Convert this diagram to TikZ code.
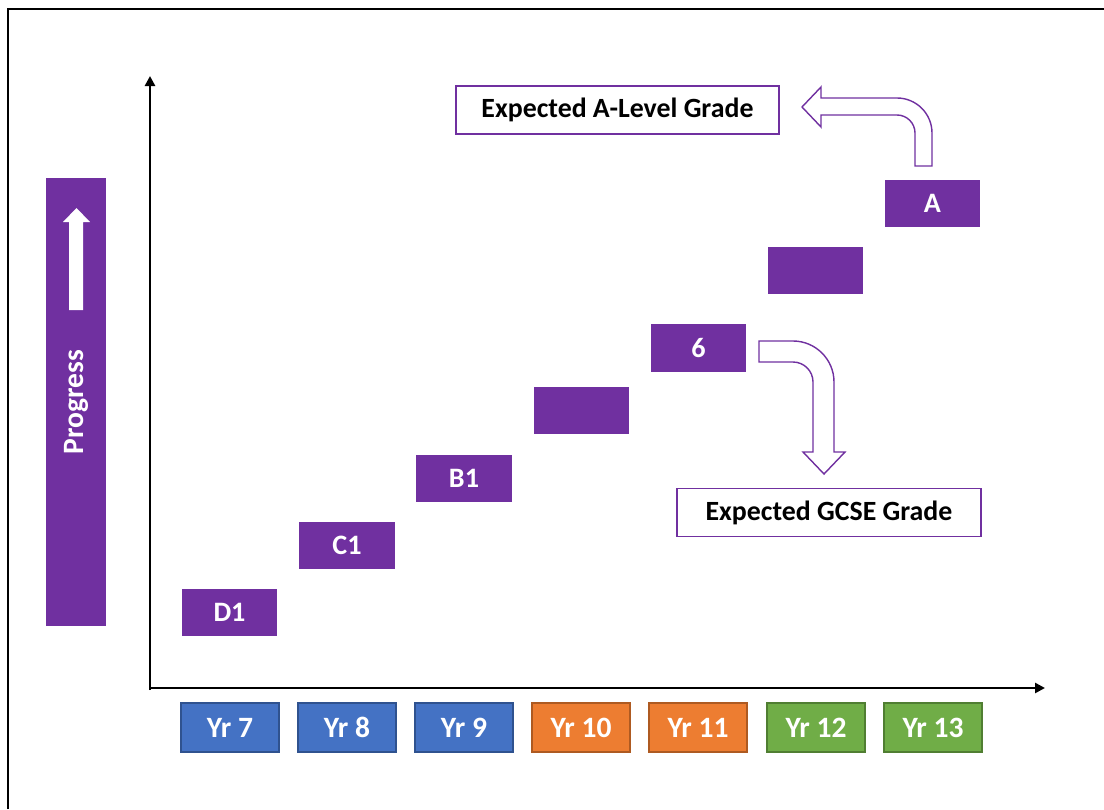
\documentclass[tikz,border=0pt]{standalone}
\usepackage{fontspec}
\setmainfont{Carlito}
\usepackage{xcolor}
\usetikzlibrary{arrows.meta}
\definecolor{GradePurple}{RGB}{112,48,160}
\definecolor{KSBlue}{RGB}{68,114,196}
\definecolor{KSBlueDark}{RGB}{47,82,143}
\definecolor{KSOrange}{RGB}{237,125,49}
\definecolor{KSOrangeDark}{RGB}{174,90,33}
\definecolor{KSGreen}{RGB}{112,173,71}
\definecolor{KSGreenDark}{RGB}{80,126,50}
\tikzset{
    gradebox/.style={rectangle, fill=GradePurple, text=white, minimum width=2.375cm, minimum height=1.175cm, inner sep=0pt, font=\bfseries\fontsize{20}{24}\selectfont},
    yearbox/.style={rectangle, text=white, line width=0.8pt, minimum width=2.45cm, minimum height=1.225cm, inner sep=0pt, font=\bfseries\fontsize{21}{25}\selectfont}
}

\begin{document}
\begin{tikzpicture}[
        x=0.025cm, y=-0.025cm,
        % --- STYLE ---
        labelbox/.style={
            rectangle,
            draw=GradePurple,
            fill=white,
            line width=1pt,
            minimum height=1.2cm,
            inner sep=0pt,
            font=\bfseries\fontsize{19.8}{24}\selectfont
        },
        % truc
        axis/.style={
            line width=2pt,
            -{Triangle[length=0.25cm, width=0.25cm]}
        },
        % mui ten cong
        bentarrow/.style={
            draw=GradePurple,
            fill=white,
            line width=1pt,
            line join=miter
        }
    ]
        \useasboundingbox (0,0) rectangle (1104,809);

        % --- KHUNG ---
        \draw[line width=1pt] (8,809) -- (8,9) -- (1104,9);

        % --- THANH "Progress" ---
        \node[rectangle, fill=GradePurple, text=white, rotate=90,
            minimum width=11.2cm, minimum height=1.5cm, inner sep=0pt,
            font=\bfseries\fontsize{21}{25}\selectfont] (prog) at (76,402) {Progress};
        \fill[white] (69,310) -- (69,222) -- (63,222) -- (76.5,208) -- (90,222) -- (83,222) -- (83,310) -- cycle;

        % --- TRUC ---
        \coordinate (origin) at (150,688);
        \coordinate (ytop) at (150,76);
        \coordinate (xend) at (1045,688);
        \draw[axis] (150,690) -- (ytop);
        \draw[axis] (origin) -- (xend);

        % --- DIEM ---
        \foreach \n/\cx/\cy/\txt in {1/229.5/612.5/D1, 2/347/545.5/C1, 3/464/478.5/B1,
                4/581.5/410.5/{}, 5/698.5/348/6, 6/815.5/270.5/{}, 7/932.5/203.5/A} {
            \node[gradebox] (g\n) at (\cx,\cy) {\txt};
        }

        % --- NAM HOC ---
        \foreach \yr/\cx/\fc/\dc in {7/230/KSBlue/KSBlueDark, 8/347/KSBlue/KSBlueDark,
                9/464/KSBlue/KSBlueDark, 10/581/KSOrange/KSOrangeDark,
                11/698/KSOrange/KSOrangeDark, 12/816/KSGreen/KSGreenDark,
                13/933/KSGreen/KSGreenDark} {
            \node[yearbox, fill=\fc, draw=\dc] (y\yr) at (\cx,727.5) {Yr \yr};
        }

        % --- HOP TEXT ---
        \node[labelbox, minimum width=8.075cm] (alevel) at (617.5,110) {Expected A-Level Grade};
        \node[labelbox, minimum width=7.6cm] (gcse) at (829,512.5) {Expected GCSE Grade};

        % --- MUI TEN CONG ---
        \draw[bentarrow] (915,166) -- (932,166) -- (932,133)
            .. controls (932,113.7) and (916.3,98) .. (897,98)
            -- (821,98) -- (821,87) -- (802,107) -- (821,127) -- (821,115) -- (897,115)
            .. controls (906.9,115) and (915,123.1) .. (915,133) -- cycle;
        \draw[bentarrow] (759,341) -- (793,341)
            .. controls (815.6,341) and (834,359.4) .. (834,382)
            -- (834,452) -- (845,452) -- (824,474) -- (803,452) -- (813,452) -- (813,382)
            .. controls (813,371) and (804,362) .. (793,362) -- (759,362) -- cycle;

    \end{tikzpicture}
\end{document}
